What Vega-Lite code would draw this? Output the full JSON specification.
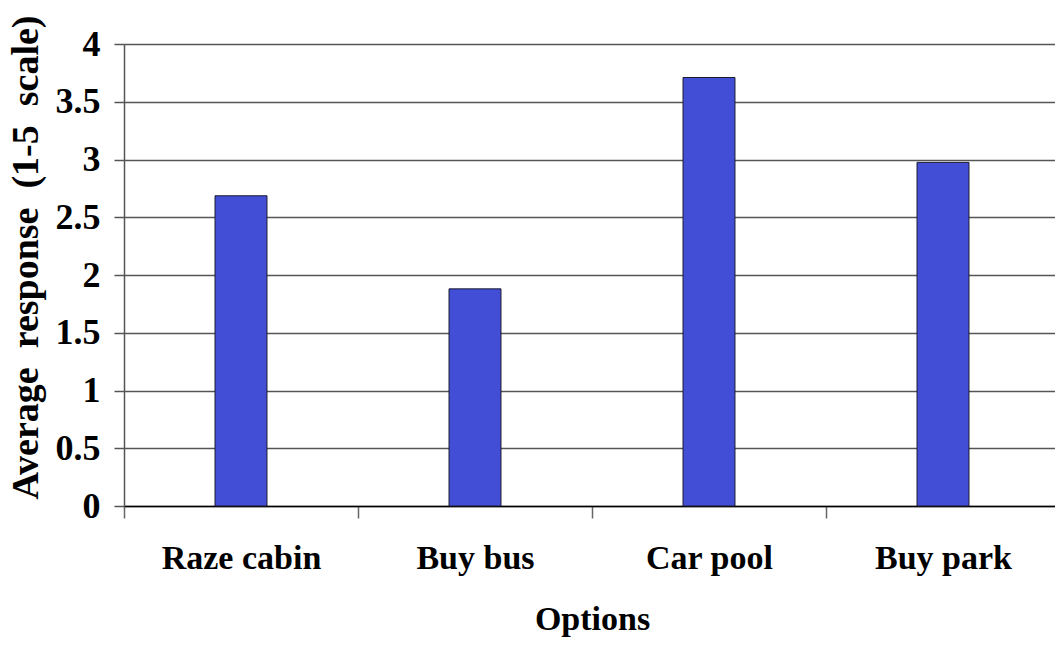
{
  "$schema": "https://vega.github.io/schema/vega-lite/v6.json",
  "autosize": {"type": "none"},
  "width": 936,
  "height": 462,
  "padding": {"left": 124, "top": 44, "right": 0, "bottom": 143},
  "background": "white",
  "config": {
    "view": {"stroke": null},
    "font": "Liberation Serif"
  },
  "data": {
    "values": [
      {"option": "Raze cabin", "response": 2.686},
      {"option": "Buy bus", "response": 1.88},
      {"option": "Car pool", "response": 3.71},
      {"option": "Buy park", "response": 2.975}
    ]
  },
  "mark": {"type": "bar", "width": {"band": 0.222}, "fill": "#434ED6", "stroke": "#1a1a2e", "strokeWidth": 1},
  "encoding": {
    "x": {
      "field": "option",
      "type": "nominal",
      "sort": null,
      "scale": {"paddingInner": 0, "paddingOuter": 0},
      "axis": {
        "title": "Options",
        "titleFont": "Liberation Serif",
        "titleFontSize": 34,
        "titleFontWeight": "bold",
        "titleColor": "black",
        "titlePadding": 27,
        "labelAngle": 0,
        "labelFont": "Liberation Serif",
        "labelFontSize": 34,
        "labelFontWeight": "bold",
        "labelColor": "black",
        "labelPadding": 23,
        "tickBand": "extent",
        "tickSize": 12,
        "tickColor": "#666666",
        "tickWidth": 1.5,
        "domainColor": "black",
        "domainWidth": 1.5,
        "grid": false
      }
    },
    "y": {
      "field": "response",
      "type": "quantitative",
      "scale": {"domain": [0, 4], "nice": false},
      "axis": {
        "title": "Average\u00a0\u00a0response\u00a0\u00a0(1-5\u00a0\u00a0scale)",
        "titleFont": "Liberation Serif",
        "titleFontSize": 38,
        "titleFontWeight": "bold",
        "titleColor": "black",
        "titleAngle": -90,
        "titleAlign": "center",
        "titleBaseline": "middle",
        "titleX": -98,
        "titleY": 213,
        "values": [0, 0.5, 1, 1.5, 2, 2.5, 3, 3.5, 4],
        "format": "~g",
        "labelFont": "Liberation Serif",
        "labelFontSize": 36,
        "labelFontWeight": "bold",
        "labelColor": "black",
        "labelPadding": 14,
        "tickSize": 10,
        "tickColor": "#555555",
        "tickWidth": 1.5,
        "domainColor": "#555555",
        "domainWidth": 1.5,
        "grid": true,
        "gridColor": "#555555",
        "gridWidth": 1.5,
        "gridOpacity": 1
      }
    }
  }
}
